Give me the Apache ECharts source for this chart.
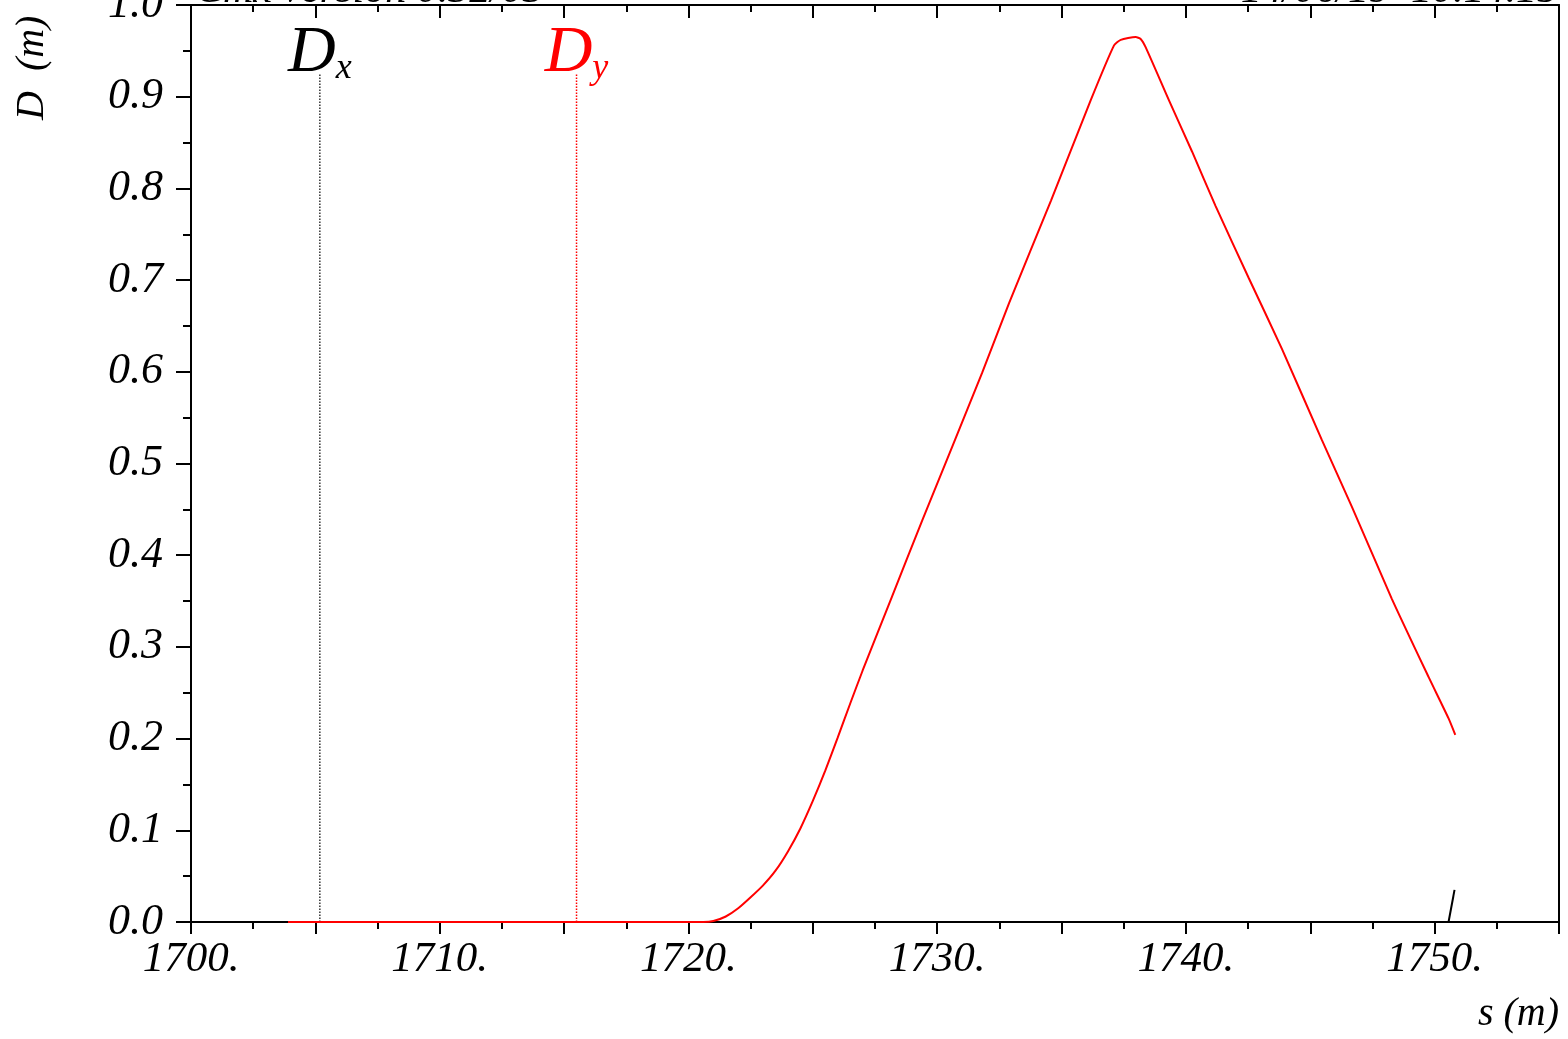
<!DOCTYPE html>
<html>
<head>
<meta charset="utf-8">
<script src="https://cdn.jsdelivr.net/npm/echarts@6/dist/echarts.min.js"></script>
<style>
html,body{margin:0;padding:0;background:#fff;}
#chart{width:1568px;height:1039px;}
</style>
</head>
<body>
<div id="chart"></div>
<script>
// ---- data ----
const sVals = [1703.9, 1720.6, 1721.0, 1721.5, 1722.0, 1722.5, 1723.0, 1723.5, 1724.0, 1724.5, 1725.0, 1725.5, 1726.0, 1726.5, 1727.0, 1728.2, 1729.40, 1731.81, 1732.89, 1734.58, 1736.17, 1737.11, 1737.38, 1737.98, 1738.18, 1738.38, 1739.32, 1740.25, 1741.19, 1742.53, 1743.86, 1745.46, 1746.67, 1748.27, 1749.76, 1750.56, 1750.83];
const dVals = [0, 0, 0.001, 0.006, 0.015, 0.027, 0.040, 0.056, 0.077, 0.102, 0.132, 0.165, 0.201, 0.238, 0.274, 0.356, 0.438, 0.599, 0.675, 0.787, 0.896, 0.956, 0.962, 0.965, 0.963, 0.954, 0.896, 0.840, 0.781, 0.702, 0.625, 0.526, 0.453, 0.353, 0.267, 0.222, 0.204];
const markerS = [1750.56, 1750.80];
const markerD = [0, 0.035];
const dxPos = 1705.18;
const dyPos = 1715.5;
const labelTop = 0.925;
const xTickLabels = [1700, 1710, 1720, 1730, 1740, 1750];
const headerLeft = 'Cmx version 0.32/03';
const headerRight = '14/06/19  10.14.15';

const FONT = "'Liberation Serif', 'Times New Roman', serif";
const curve = sVals.map((s, i) => [s, dVals[i]]);
const marker = markerS.map((s, i) => [s, markerD[i]]);

const chart = echarts.init(document.getElementById('chart'));
const axisLineStyle = {color: '#000', width: 2};
chart.setOption({
  backgroundColor: '#fff',
  animation: false,
  grid: {left: 191, right: 9, top: 5, bottom: 117, containLabel: false, outerBoundsMode: 'none'},
  xAxis: [{
    type: 'value', min: 1700, max: 1755, interval: 5, position: 'bottom',
    axisLine: {show: true, onZero: false, lineStyle: axisLineStyle},
    axisTick: {show: true, inside: false, length: 12, lineStyle: axisLineStyle},
    minorTick: {show: true, splitNumber: 2, length: 7, lineStyle: axisLineStyle},
    splitLine: {show: false},
    axisLabel: {
      margin: 16, fontFamily: FONT, fontStyle: 'italic', fontSize: 43, color: '#000',
      formatter: v => xTickLabels.indexOf(Math.round(v)) >= 0 ? Math.round(v) + '.' : ''
    }
  }, {
    type: 'value', min: 1700, max: 1755, interval: 5, position: 'top',
    axisLine: {show: true, onZero: false, lineStyle: axisLineStyle},
    axisTick: {show: true, inside: true, length: 13, lineStyle: axisLineStyle},
    minorTick: {show: true, splitNumber: 2, length: 7, lineStyle: axisLineStyle},
    splitLine: {show: false},
    axisLabel: {show: false}
  }],
  yAxis: [{
    type: 'value', min: 0, max: 1, interval: 0.1, position: 'left',
    axisLine: {show: true, onZero: false, lineStyle: axisLineStyle},
    axisTick: {show: true, inside: false, length: 15, lineStyle: axisLineStyle},
    minorTick: {show: true, splitNumber: 2, length: 8, lineStyle: axisLineStyle},
    splitLine: {show: false},
    axisLabel: {
      margin: 28, fontFamily: FONT, fontStyle: 'italic', fontSize: 44, color: '#000',
      formatter: v => v.toFixed(1)
    }
  }, {
    type: 'value', min: 0, max: 1, interval: 0.1, position: 'right',
    axisLine: {show: true, onZero: false, lineStyle: axisLineStyle},
    axisTick: {show: false}, splitLine: {show: false}, axisLabel: {show: false}
  }],
  graphic: [
    {type: 'text', left: 195, top: -30, style: {text: headerLeft, font: "italic 42px " + FONT, fill: '#000'}},
    {type: 'text', right: 10, top: -30, style: {text: headerRight, font: "italic 42px " + FONT, fill: '#000'}},
    {type: 'text', x: 12, y: 120, rotation: Math.PI / 2, style: {text: 'D  (m)', font: "italic 40px " + FONT, fill: '#000'}},
    {type: 'text', right: 9, top: 994, style: {text: 's (m)', font: "italic 40px " + FONT, fill: '#000'}}
  ],
  series: [
    {
      type: 'line', data: [[dxPos, 0], [dxPos, labelTop]], symbol: 'none', silent: true,
      lineStyle: {color: '#333', width: 1.5, type: 'dotted'}
    },
    {
      type: 'line', data: [[dyPos, 0], [dyPos, labelTop]], symbol: 'none', silent: true,
      lineStyle: {color: '#ff0000', width: 1.5, type: 'dotted'}
    },
    {
      type: 'scatter', data: [[dxPos, labelTop]], symbolSize: 0, silent: true,
      itemStyle: {opacity: 1},
      label: {
        show: true, position: 'top', distance: 0, offset: [0, 13], color: '#000',
        formatter: '{a|D}{b|x}',
        rich: {
          a: {fontFamily: FONT, fontStyle: 'italic', fontSize: 66, color: '#000', lineHeight: 66, verticalAlign: 'bottom'},
          b: {fontFamily: FONT, fontStyle: 'italic', fontSize: 36, color: '#000', lineHeight: 44, verticalAlign: 'bottom'}
        }
      }
    },
    {
      type: 'scatter', data: [[dyPos, labelTop]], symbolSize: 0, silent: true,
      itemStyle: {opacity: 1},
      label: {
        show: true, position: 'top', distance: 0, offset: [0, 13], color: '#ff0000',
        formatter: '{a|D}{b|y}',
        rich: {
          a: {fontFamily: FONT, fontStyle: 'italic', fontSize: 66, color: '#ff0000', lineHeight: 66, verticalAlign: 'bottom'},
          b: {fontFamily: FONT, fontStyle: 'italic', fontSize: 36, color: '#ff0000', lineHeight: 44, verticalAlign: 'bottom'}
        }
      }
    },
    {
      type: 'line', data: curve, symbol: 'none', smooth: 0.2, silent: true,
      lineStyle: {color: '#ff0000', width: 2}
    },
    {
      type: 'line', data: marker, symbol: 'none', silent: true,
      lineStyle: {color: '#000', width: 2}
    }
  ]
});
</script>
</body>
</html>
